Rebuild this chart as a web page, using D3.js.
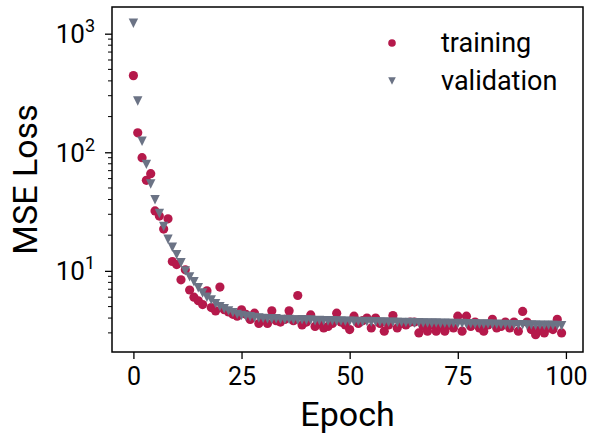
<!DOCTYPE html>
<html>
<head>
<meta charset="utf-8">
<script src="https://cdn.jsdelivr.net/npm/d3@7"></script>
<style>
  body { margin: 0; background: #fff; }
  text { font-family: Roboto, "DejaVu Sans", sans-serif; fill: #000; }
</style>
</head>
<body>
<div id="chart"></div>
<script>
// loss per epoch
var trainLoss = [443, 146, 90, 58, 66, 32, 29, 22.5, 27.5, 12,
  11.3, 8.4, 10.2, 6.9, 6.0, 5.6, 5.2, 6.8, 4.9, 4.6,
  7.3, 4.7, 4.5, 4.3, 4.15, 4.7, 4.3, 3.9, 4.4, 3.6,
  3.9, 3.6, 4.6, 3.8, 3.7, 3.9, 4.6, 3.8, 6.2, 3.5,
  3.7, 4.25, 3.4, 3.6, 3.3, 3.4, 3.6, 4.4, 3.7, 3.5,
  3.2, 4.15, 3.6, 3.8, 4.0, 3.3, 4.0, 3.6, 3.1, 3.5,
  4.2, 3.3, 3.6, 3.5, 3.7, 3.7, 3.0, 3.4, 3.1, 3.5,
  3.1, 3.4, 3.1, 3.5, 3.3, 4.15, 3.1, 4.15, 3.4, 3.7,
  3.3, 3.1, 3.5, 3.9, 3.3, 3.4, 3.7, 3.3, 3.7, 3.1,
  4.55, 3.7, 3.2, 2.9, 3.2, 3.0, 3.3, 3.2, 3.9, 3.0];

var valLoss = [1224, 271, 124, 79, 54, 39.8, 30.5, 23.7, 18.5, 15.8,
  13.7, 11.7, 10.0, 8.9, 8.1, 7.2, 6.5, 6.0, 5.7, 5.3,
  5.0, 4.8, 4.6, 4.45, 4.3, 4.2, 4.15, 4.1, 4.05, 4.0,
  3.98, 3.95, 3.92, 3.95, 3.9, 3.88, 3.9, 3.86, 3.85, 3.87,
  3.83, 3.85, 3.8, 3.82, 3.8, 3.78, 3.8, 3.77, 3.78, 3.75,
  3.76, 3.74, 3.75, 3.72, 3.74, 3.7, 3.72, 3.7, 3.71, 3.68,
  3.7, 3.67, 3.68, 3.66, 3.67, 3.64, 3.66, 3.63, 3.64, 3.62,
  3.63, 3.6, 3.62, 3.6, 3.61, 3.58, 3.6, 3.57, 3.58, 3.56,
  3.57, 3.55, 3.56, 3.54, 3.55, 3.52, 3.54, 3.51, 3.52, 3.5,
  3.51, 3.49, 3.5, 3.48, 3.49, 3.47, 3.48, 3.46, 3.47, 3.45];

var xTicks = [0, 25, 50, 75, 100];
var yTicks = [10, 100, 1000];
var seriesNames = ["training", "validation"];

var W = 589, H = 434;
var margin = {top: 7, right: 6, bottom: 82, left: 112};
var trainColor = "#b5194b";
var valColor = "#6b7385";

var svg = d3.select("#chart").append("svg")
  .attr("width", W)
  .attr("height", H);

var x = d3.scaleLinear()
  .domain([-4.95, 103.95])
  .range([margin.left, W - margin.right]);

var y = d3.scaleLog()
  .domain([2.07, 1679])
  .range([H - margin.bottom, margin.top]);

// triangle pointing down, like matplotlib "v"
function tri(s) {
  return "M" + (-s) + "," + (-s) + "L" + s + "," + (-s) + "L0," + s + "Z";
}

// TRAINING POINTS
svg.append("g").selectAll("circle")
  .data(trainLoss)
  .enter()
  .append("circle")
    .attr("cx", function(d, i) { return x(i); })
    .attr("cy", function(d) { return y(d); })
    .attr("r", 4.6)
    .attr("fill", trainColor);

// VALIDATION POINTS (drawn on top)
svg.append("g").selectAll("path")
  .data(valLoss)
  .enter()
  .append("path")
    .attr("d", tri(4.7))
    .attr("transform", function(d, i) { return "translate(" + x(i) + "," + y(d) + ")"; })
    .attr("fill", valColor);

// X AXIS
var xAxis = svg.append("g")
  .attr("transform", "translate(0," + (H - margin.bottom) + ")")
  .call(d3.axisBottom(x).tickValues(xTicks).tickSize(7).tickPadding(8).tickFormat(d3.format("d")));
xAxis.select(".domain").remove();
xAxis.selectAll("line").attr("stroke", "#000").attr("stroke-width", 1.3);
xAxis.selectAll("text").attr("font-size", "25px").attr("fill", "#000")
  .style("font-family", "Roboto, sans-serif");

// Y AXIS - minor ticks
var minor = [];
[1, 10, 100].forEach(function(p) {
  for (var k = 2; k <= 9; k++) {
    var v = k * p;
    if (v >= y.domain()[0] && v <= y.domain()[1]) minor.push(v);
  }
});
svg.append("g").selectAll("line")
  .data(minor)
  .enter()
  .append("line")
    .attr("x1", margin.left - 4).attr("x2", margin.left)
    .attr("y1", function(d) { return y(d); })
    .attr("y2", function(d) { return y(d); })
    .attr("stroke", "#000")
    .attr("stroke-width", 1);

var yAxis = svg.append("g")
  .attr("transform", "translate(" + margin.left + ",0)")
  .call(d3.axisLeft(y).tickValues(yTicks).tickSize(7).tickFormat(""));
yAxis.select(".domain").remove();
yAxis.selectAll("line").attr("stroke", "#000").attr("stroke-width", 1.3);

var yLab = svg.append("g").selectAll("text")
  .data(yTicks)
  .enter()
  .append("text")
    .attr("x", margin.left - 17)
    .attr("y", function(d) { return y(d) + 9.5; })
    .attr("text-anchor", "end")
    .attr("font-size", "26px");
yLab.append("tspan").text("10");
yLab.append("tspan")
  .attr("dy", -11)
  .attr("font-size", "18px")
  .text(function(d) { return Math.round(Math.log10(d)); });

// FRAME
svg.append("rect")
  .attr("x", margin.left)
  .attr("y", margin.top)
  .attr("width", W - margin.right - margin.left)
  .attr("height", H - margin.bottom - margin.top)
  .attr("fill", "none")
  .attr("stroke", "#000")
  .attr("stroke-width", 1.5);

// AXIS LABELS
svg.append("text")
  .attr("x", (margin.left + W - margin.right) / 2)
  .attr("y", 426)
  .attr("text-anchor", "middle")
  .attr("font-size", "34px")
  .text("Epoch");

svg.append("text")
  .attr("transform", "translate(37," + ((margin.top + H - margin.bottom) / 2) + ") rotate(-90)")
  .attr("text-anchor", "middle")
  .attr("font-size", "34px")
  .text("MSE Loss");

// LEGEND
var legend = svg.append("g");
legend.append("circle")
  .attr("cx", 392).attr("cy", 43).attr("r", 3.8)
  .attr("fill", trainColor);
legend.append("path")
  .attr("d", tri(3.8))
  .attr("transform", "translate(392,81)")
  .attr("fill", valColor);
legend.selectAll("text.lg")
  .data(seriesNames)
  .enter()
  .append("text")
    .attr("class", "lg")
    .attr("x", 441)
    .attr("y", function(d, i) { return 52 + i * 38; })
    .attr("font-size", "27px")
    .text(function(d) { return d; });
</script>
</body>
</html>
